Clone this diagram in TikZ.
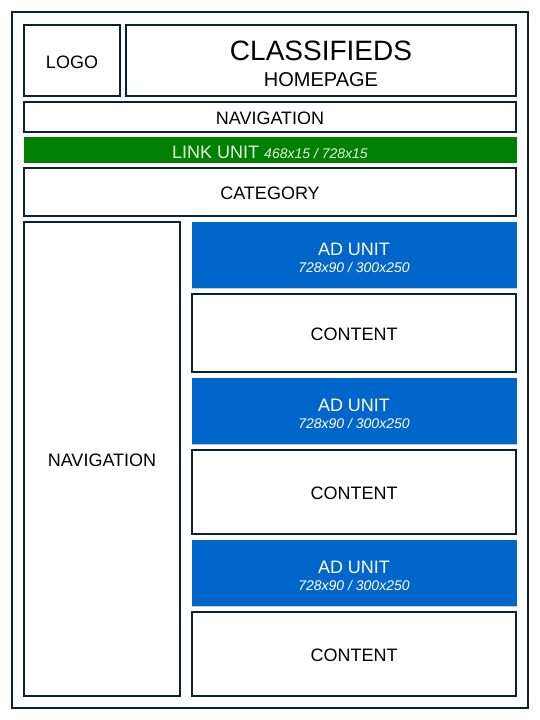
\documentclass[tikz,border=0pt]{standalone}
\usepackage{fontspec}
\setmainfont{Liberation Sans}
\usetikzlibrary{positioning, shadows}
\definecolor{frameline}{HTML}{0B2136}
\definecolor{adblue}{HTML}{0066CC}
\definecolor{linkgreen}{HTML}{008000}
\definecolor{linktext}{HTML}{E6F4E6}

\begin{document}
\begin{tikzpicture}[
  x=1pt, y=-1pt,
  node distance=6pt,
  wirebox/.style={draw=frameline, line width=2pt, fill=white, inner sep=0pt, outer sep=0pt, align=center, text=black, text height=15.5pt, text depth=0pt, font=\fontsize{18}{18}\selectfont},
  adbox/.style={fill=adblue, inner sep=0pt, outer sep=0pt, minimum width=325pt, minimum height=66pt, align=center, text=white, text height=35pt, text depth=0pt, font=\fontsize{18}{17.5}\selectfont, drop shadow={shadow xshift=0.6pt, shadow yshift=-1.2pt, opacity=0.35, fill=black!60}},
  contentbox/.style={wirebox, minimum width=324pt}
]
  \useasboundingbox (0,0) rectangle (540,720);
  \node[draw=frameline, line width=2pt, inner sep=0pt, minimum width=516pt, minimum height=696pt] (page) at (270,360) {};

  % header row
  \node[wirebox, minimum width=96pt, minimum height=71pt, anchor=north west] (logo) at (24,25) {LOGO};
  \node[wirebox, minimum width=390pt, minimum height=71pt, right=6pt of logo, text height=51pt, font=\fontsize{28}{26}\selectfont] (title) {CLASSIFIEDS\\{\fontsize{20}{26}\selectfont HOMEPAGE}};

  % full width bars
  \node[wirebox, minimum width=492pt, minimum height=30pt, below=6pt of logo.south west, anchor=north west] (topnav) {NAVIGATION};
  \node[fill=linkgreen, inner sep=0pt, outer sep=0pt, minimum width=493pt, minimum height=26pt, text=linktext, text height=16.3pt, text depth=0pt, font=\fontsize{18}{18}\selectfont, below=5pt of topnav.south west, anchor=north west, xshift=-0.5pt] (link) {LINK UNIT {\itshape\fontsize{14}{16}\selectfont 468x15 / 728x15}};
  \node[wirebox, minimum width=492pt, minimum height=48pt, below=5pt of link.south west, anchor=north west, xshift=0.5pt] (category) {CATEGORY};

  % side column
  \node[wirebox, minimum width=156pt, minimum height=474pt, below=6pt of category.south west, anchor=north west] (sidenav) {NAVIGATION};

  % main column
  \node[adbox, below=6pt of category.south east, anchor=north east, xshift=0.5pt] (ad1) {AD UNIT\\{\itshape\fontsize{14}{17.5}\selectfont 728x90 / 300x250}};
  \node[contentbox, minimum height=78pt, below=of ad1] (content1) {CONTENT};
  \node[adbox, below=of content1] (ad2) {AD UNIT\\{\itshape\fontsize{14}{17.5}\selectfont 728x90 / 300x250}};
  \node[contentbox, minimum height=84pt, below=of ad2] (content2) {CONTENT};
  \node[adbox, below=of content2] (ad3) {AD UNIT\\{\itshape\fontsize{14}{17.5}\selectfont 728x90 / 300x250}};
  \node[contentbox, minimum height=84pt, below=of ad3] (content3) {CONTENT};
\end{tikzpicture}
\end{document}
